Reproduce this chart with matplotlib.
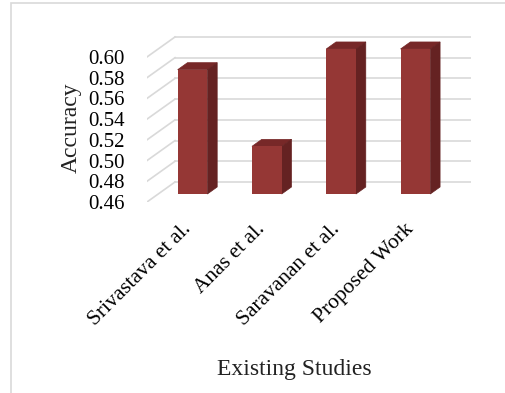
import matplotlib
matplotlib.use("Agg")
import matplotlib.pyplot as plt
from matplotlib.patches import Rectangle
import numpy as np

studies = ["Srivastava et al.", "Anas et al.", "Saravanan et al.", "Proposed Work"]
accuracy = [0.58, 0.506, 0.60, 0.60]
yticks = [0.46, 0.48, 0.50, 0.52, 0.54, 0.56, 0.58, 0.60]

plt.rcParams['font.family'] = ['Liberation Serif', 'DejaVu Serif']

front = "#953735"
top_c = "#772828"
side_c = "#652222"
grid_c = "#d9d9d9"

# fake 3d: depth offset of the back wall in data units
DX = 0.377
DY = 0.0193
base = 0.46
d0, d1 = 0.40, 0.75   # bar depth span
w = 0.40

fig = plt.figure(figsize=(5.06, 3.93), dpi=100)
ax = fig.add_axes([147 / 506, 1 - 202 / 393, 324 / 506, 167 / 393])
xmin, xmax = -0.462, 3.899
ax.set_xlim(xmin, xmax)
ax.set_ylim(base, base + 167 / 1036)

# back wall and side wall gridlines
for v in yticks:
    ax.plot([xmin + DX, xmax], [v + DY, v + DY], color=grid_c, lw=1.2, zorder=1)
    ax.plot([xmin, xmin + DX], [v, v + DY], color=grid_c, lw=1.2, zorder=1)

x = np.arange(len(studies))
for xi, v in zip(x, accuracy):
    xl = xi - w / 2 + d0 * DX
    xr = xi + w / 2 + d0 * DX
    yt = v + d0 * DY
    yb = base + d0 * DY
    ddx = (d1 - d0) * DX
    ddy = (d1 - d0) * DY
    ax.fill([xl, xr, xr + ddx, xl + ddx], [yt, yt, yt + ddy, yt + ddy],
            facecolor=top_c, edgecolor=top_c, lw=0.5, zorder=3)
    ax.fill([xr, xr + ddx, xr + ddx, xr], [yb, yb + ddy, yt + ddy, yt],
            facecolor=side_c, edgecolor=side_c, lw=0.5, zorder=3)
ax.bar(x + d0 * DX, np.array(accuracy) - base, bottom=base + d0 * DY, width=w,
       color=front, zorder=4)

ax.set_yticks(yticks)
ax.set_yticklabels(["%.2f" % t for t in yticks], fontsize=15)
ax.set_xticks(x)
ax.set_xticklabels(studies, rotation=45, ha="right", rotation_mode="anchor",
                   fontsize=15.5)
ax.tick_params(axis="y", length=0, pad=16)
ax.tick_params(axis="x", length=0, pad=13)
for s in ax.spines.values():
    s.set_visible(False)
ax.patch.set_visible(False)

fig.text(71 / 506, 1 - 128 / 393, "Accuracy", rotation=90, fontsize=17,
         ha="center", va="center", color="#222222")
fig.text(294 / 506, 1 - 370 / 393, "Existing Studies", fontsize=17,
         ha="center", va="center", color="#222222")

fig.add_artist(Rectangle((11 / 506, -0.1), 1.2, 1.1 - 3 / 393,
                         transform=fig.transFigure, fill=False,
                         edgecolor=grid_c, lw=1.2))

fig.savefig("out.png", dpi=100)
